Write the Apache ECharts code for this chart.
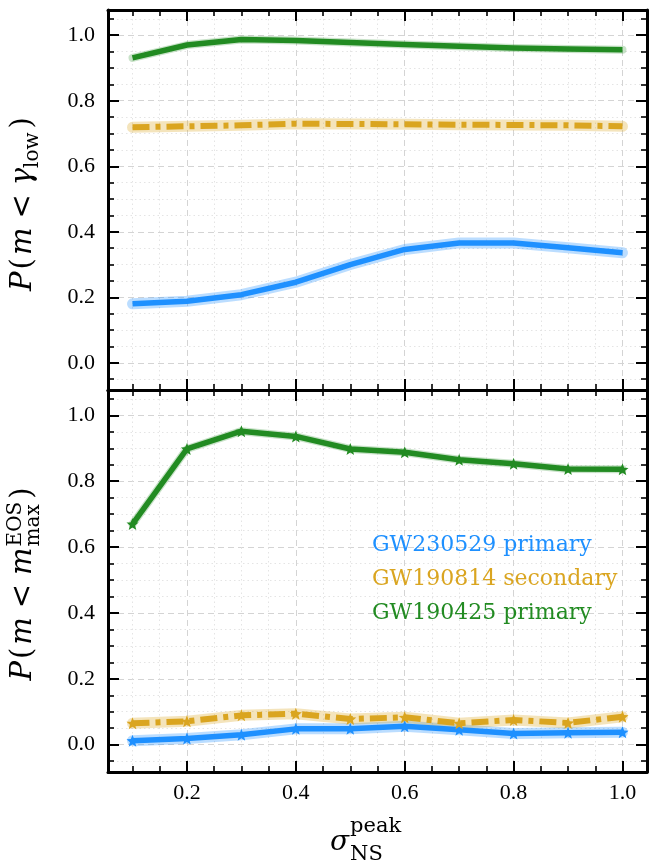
<!DOCTYPE html>
<html><head><meta charset="utf-8">
<script src="https://cdn.jsdelivr.net/npm/echarts@6/dist/echarts.min.js"></script>
<style>html,body{margin:0;padding:0;background:#fff}#c{width:659px;height:863px}</style>
</head><body><div id="c"></div><script>
// ---------------- data ----------------
const sigma = [0.1, 0.2, 0.3, 0.4, 0.5, 0.6, 0.7, 0.8, 0.9, 1.0];
const topBlue  = [0.180, 0.188, 0.208, 0.246, 0.300, 0.346, 0.366, 0.366, 0.351, 0.336];
const topGold  = [0.719, 0.722, 0.725, 0.730, 0.729, 0.728, 0.727, 0.726, 0.725, 0.722];
const topGreen = [0.931, 0.970, 0.987, 0.984, 0.978, 0.972, 0.966, 0.961, 0.958, 0.956];
const botBlue  = [0.012, 0.019, 0.030, 0.048, 0.048, 0.056, 0.045, 0.034, 0.036, 0.038];
const botGold  = [0.065, 0.071, 0.089, 0.094, 0.078, 0.083, 0.065, 0.075, 0.066, 0.085];
const botGreen = [0.670, 0.898, 0.952, 0.936, 0.898, 0.888, 0.865, 0.853, 0.837, 0.836];
const seriesNames = ['GW230529 primary', 'GW190814 secondary', 'GW190425 primary'];
const xMajorTicks = [0.2, 0.4, 0.6, 0.8, 1.0];
const xMinorTicks = [0.1, 0.15, 0.25, 0.3, 0.35, 0.45, 0.5, 0.55, 0.65, 0.7, 0.75, 0.85, 0.9, 0.95];
const yMajorTicks = [0.0, 0.2, 0.4, 0.6, 0.8, 1.0];
const yMinorTicks = [-0.05, 0.05, 0.1, 0.15, 0.25, 0.3, 0.35, 0.45, 0.5, 0.55, 0.65, 0.7, 0.75, 0.85, 0.9, 0.95, 1.05];
const X_MIN = 0.055, X_MAX = 1.045, Y_MIN = -0.083, Y_MAX = 1.077;

// ---------------- style ----------------
const BLUE = '#1E90FF', GOLD = '#DAA520', GREEN = '#228B22';
const colors = [BLUE, GOLD, GREEN];
const SERIF = 'DejaVu Serif';
const TICKFONT = 'Liberation Serif';
const STAR = 'path://M0,-10 L2.6,-3.4 9.5,-3.1 4.1,1.3 6,8.1 0,4.3 -6,8.1 -4.1,1.3 -9.5,-3.1 -2.6,-3.4Z';

const chart = echarts.init(document.getElementById('c'), null, {renderer: 'canvas'});

const grids = [
  {left: 108, top: 10, width: 539, height: 380},
  {left: 108, top: 390, width: 539, height: 382}
];

const majorGrid = {show: true, lineStyle: {color: '#d4d4d4', width: 1, type: [6, 4]}};
const minorGrid = {show: true, lineStyle: {color: '#e4e4e4', width: 1, type: [1.5, 3]}};
const frameLine = {show: true, onZero: false, lineStyle: {color: '#000', width: 3}};
const noLine = {show: false, onZero: false};

function makeAxes(dim, gi, withLabels) {
  const isX = dim === 'x';
  const min = isX ? X_MIN : Y_MIN, max = isX ? X_MAX : Y_MAX;
  const major = isX ? xMajorTicks : yMajorTicks;
  const minor = isX ? xMinorTicks : yMinorTicks;
  const pos = isX ? ['bottom', 'top'] : ['left', 'right'];
  const base = {type: 'value', gridIndex: gi, min: min, max: max, scale: true, silent: true};
  const list = [];
  pos.forEach((p, k) => {
    list.push(Object.assign({}, base, {
      position: p,
      axisLine: frameLine,
      axisTick: {show: true, inside: true, length: 11, customValues: major, lineStyle: {color: '#000', width: 2}},
      axisLabel: (k === 0 && withLabels) ? {
        show: true, customValues: major, color: '#000', fontSize: 22, fontFamily: TICKFONT,
        margin: isX ? 10 : 13, formatter: v => Number(v).toFixed(1)
      } : {show: false},
      splitLine: k === 0 ? majorGrid : {show: false}
    }));
    list.push(Object.assign({}, base, {
      position: p,
      axisLine: noLine,
      axisTick: {show: true, inside: true, length: 6, customValues: minor, lineStyle: {color: '#000', width: 1.6}},
      axisLabel: {show: false},
      splitLine: k === 0 ? minorGrid : {show: false}
    }));
  });
  return list;
}

const xAxes = [].concat(makeAxes('x', 0, false), makeAxes('x', 1, true));
const yAxes = [].concat(makeAxes('y', 0, true), makeAxes('y', 1, true));

function pts(arr) { return sigma.map((x, i) => [x, arr[i]]); }

const series = [];
function addPanel(gi, vals, markers) {
  const xi = gi * 4, yi = gi * 4;
  vals.forEach((v, k) => {
    const c = colors[k];
    series.push({
      type: 'line', name: seriesNames[k], xAxisIndex: xi, yAxisIndex: yi, data: pts(v),
      symbol: 'none', silent: true, z: 2,
      lineStyle: {color: c, width: k === 2 ? 8 : 11, opacity: k === 2 ? 0.25 : 0.3, cap: 'round', join: 'round'}
    });
    series.push({
      type: 'line', name: seriesNames[k], xAxisIndex: xi, yAxisIndex: yi, data: pts(v),
      symbol: markers ? STAR : 'none', symbolSize: 12, showSymbol: markers, silent: true, z: 3,
      itemStyle: {color: c, borderWidth: 0},
      lineStyle: {color: c, width: k === 1 ? 6 : 5.5, type: k === 1 ? [17, 6, 5, 6] : 'solid', cap: 'butt', join: 'round'}
    });
  });
}
addPanel(0, [topBlue, topGold, topGreen], false);
addPanel(1, [botBlue, botGold, botGreen], true);

// ---------- math labels ----------
const mctx = document.createElement('canvas').getContext('2d');
function fontStr(style, size) { return style + ' ' + size + 'px "' + SERIF + '"'; }
function measure(t, font) { mctx.font = font; return mctx.measureText(t).width; }
function mathGroup(tokens, opts) {
  let x = 0, prevStart = 0, prevW = 0;
  const els = [];
  tokens.forEach(tk => {
    const fstyle = tk.it ? 'italic' : 'normal';
    const font = fontStr(fstyle, tk.size);
    const w = measure(tk.t, font);
    let start;
    if (tk.stack) {
      start = prevStart;
      const adv = Math.max(prevW, w);
      x = prevStart + adv;
      prevW = adv;
    } else {
      start = x + (tk.gap || 0);
      x = start + w;
      prevStart = start; prevW = w;
    }
    els.push({
      type: 'text', x: start, y: (tk.dy || 0) - 0.346 * tk.size,
      style: {text: tk.t, font: font, fontSize: tk.size, fontFamily: SERIF, fontStyle: fstyle,
        fill: '#000', align: 'left', verticalAlign: 'middle', textAlign: 'left', textVerticalAlign: 'middle'}
    });
  });
  const total = x;
  if (opts.center) els.forEach(e => { e.x -= total / 2; });
  return {type: 'group', x: opts.x, y: opts.y, rotation: opts.rotation || 0, children: els, silent: true};
}

const M = 29, S = 20;
const topLabel = mathGroup([
  {t: 'P', it: true, size: M},
  {t: '(', size: M, gap: 2},
  {t: 'm', it: true, size: M, gap: 3},
  {t: '<', size: M, gap: 9},
  {t: 'γ', it: true, size: M, gap: 9},
  {t: 'low', size: S, dy: 6},
  {t: ')', size: M, gap: 4}
], {x: 34, y: 204, rotation: Math.PI / 2, center: true});

const botLabel = mathGroup([
  {t: 'P', it: true, size: M},
  {t: '(', size: M, gap: 2},
  {t: 'm', it: true, size: M, gap: 3},
  {t: '<', size: M, gap: 9},
  {t: 'm', it: true, size: M, gap: 9},
  {t: 'EOS', size: S, dy: -11, gap: 1},
  {t: 'max', size: S, dy: 7, stack: true},
  {t: ')', size: M, gap: 3}
], {x: 34, y: 584, rotation: Math.PI / 2, center: true});

const xLabel = mathGroup([
  {t: 'σ', it: true, size: 28},
  {t: 'peak', size: 21, dy: -18, gap: 1},
  {t: 'NS', size: 21, dy: 10, stack: true}
], {x: 330, y: 852, center: false});

chart.setOption({
  animation: false,
  backgroundColor: '#fff',
  grid: grids,
  xAxis: xAxes,
  yAxis: yAxes,
  legend: {
    orient: 'vertical', left: 366, top: 532, padding: 0, itemGap: 8,
    itemWidth: 1, itemHeight: 1, icon: 'rect', itemStyle: {opacity: 0}, selectedMode: false,
    textStyle: {fontFamily: SERIF, fontSize: 22, lineHeight: 26},
    data: seriesNames.map((n, k) => ({name: n, textStyle: {color: colors[k], fontFamily: SERIF, fontSize: 22}}))
  },
  series: series,
  graphic: [topLabel, botLabel, xLabel]
});
</script></body></html>
